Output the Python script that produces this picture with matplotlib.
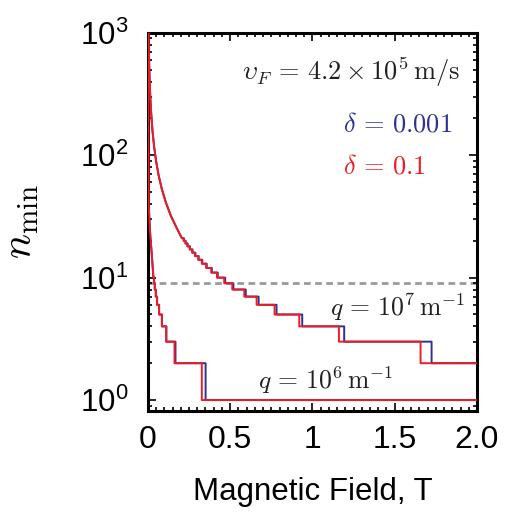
#!/usr/bin/env python3

import matplotlib
matplotlib.use("Agg")
import matplotlib.pyplot as plt
from matplotlib.ticker import FixedLocator, MultipleLocator, LogLocator, NullFormatter
import numpy as np

RED = "#ed1c24"
BLUE = "#2e3192"
TEXT = "#231f20"

# q = 1e7 m^-1 : smooth (quasi-continuous) part, then integer steps
hi_q_smooth_b = [0.0048, 0.006, 0.008, 0.011, 0.015, 0.02, 0.028, 0.038, 0.05, 0.065, 0.085, 0.11, 0.14, 0.175, 0.207]
hi_q_smooth_n = [1000, 760, 565, 410, 300, 225, 160, 118, 90, 69, 53, 41, 32, 25.5, 21]
hi_q_levels = [21, 20, 19, 18, 17, 16, 15, 14, 13, 12, 11, 10, 9, 8, 7, 6, 5, 4, 3, 2]
hi_q_edges_red = [0.207, 0.217, 0.228, 0.240, 0.254, 0.269, 0.286, 0.306, 0.328, 0.354,
                  0.385, 0.420, 0.464, 0.513, 0.586, 0.661, 0.770, 0.920, 1.161, 1.657]
hi_q_edges_blue = [0.207, 0.219, 0.230, 0.242, 0.256, 0.272, 0.289, 0.309, 0.331, 0.358,
                   0.389, 0.425, 0.470, 0.520, 0.595, 0.673, 0.782, 0.938, 1.193, 1.724]

# q = 1e6 m^-1
lo_q_smooth_b = [0.0018, 0.003, 0.0045, 0.006, 0.010, 0.015, 0.022, 0.029, 0.034]
lo_q_smooth_n = [1000, 300, 90, 38, 29, 22, 16.8, 12.5, 10]
lo_q_levels = [10, 9, 8, 7, 6, 5, 4, 3, 2, 1]
lo_q_edges_red = [0.034, 0.038, 0.042, 0.048, 0.056, 0.068, 0.085, 0.111, 0.162, 0.328]
lo_q_edges_blue = [0.034, 0.038, 0.0425, 0.0485, 0.0565, 0.069, 0.086, 0.113, 0.168, 0.351]

threshold_n = 9
x_max = 2.0


def step_curve(smooth_b, smooth_n, edges, levels, x_end):
    xs = list(smooth_b)
    ys = list(smooth_n)
    bounds = list(edges) + [x_end]
    for i, lev in enumerate(levels):
        xs += [bounds[i], bounds[i + 1]]
        ys += [lev, lev]
    return xs, ys


def main():
    plt.rcParams["font.family"] = ["Liberation Sans", "DejaVu Sans"]
    plt.rcParams["mathtext.fontset"] = "custom"
    plt.rcParams["mathtext.rm"] = "Liberation Sans"
    plt.rcParams["mathtext.it"] = "Liberation Sans:italic"

    fig = plt.figure(figsize=(5.08, 5.21), dpi=100)
    ax = fig.add_axes([0.291, 0.211, 0.648, 0.726])

    ax.axhline(threshold_n, color="#9a9a9a", lw=2.0, dashes=(2.4, 1.6), zorder=1)

    for smooth_b, smooth_n, edges, levels in [
        (hi_q_smooth_b, hi_q_smooth_n, hi_q_edges_blue, hi_q_levels),
        (lo_q_smooth_b, lo_q_smooth_n, lo_q_edges_blue, lo_q_levels),
    ]:
        xs, ys = step_curve(smooth_b, smooth_n, edges, levels, x_max)
        ax.plot(xs, ys, color=BLUE, lw=1.4, zorder=2)
    for smooth_b, smooth_n, edges, levels in [
        (hi_q_smooth_b, hi_q_smooth_n, hi_q_edges_red, hi_q_levels),
        (lo_q_smooth_b, lo_q_smooth_n, lo_q_edges_red, lo_q_levels),
    ]:
        xs, ys = step_curve(smooth_b, smooth_n, edges, levels, x_max)
        ax.plot(xs, ys, color=RED, lw=1.4, zorder=3)

    ax.set_yscale("log")
    ax.set_xlim(0, x_max)
    ax.set_ylim(0.813, 1000)

    ax.xaxis.set_major_locator(FixedLocator([0, 0.5, 1, 1.5, 2.0]))
    ax.set_xticklabels(["0", "0.5", "1", "1.5", "2.0"])
    ax.xaxis.set_minor_locator(MultipleLocator(0.05))
    ax.yaxis.set_major_locator(FixedLocator([1, 10, 100, 1000]))
    ax.set_yticklabels([r"$10^0$", r"$10^1$", r"$10^2$", r"$10^3$"])
    ax.yaxis.set_minor_locator(LogLocator(base=10, subs=np.arange(2, 10)))
    ax.yaxis.set_minor_formatter(NullFormatter())

    ax.tick_params(which="both", direction="in", top=True, right=True, width=1.2)
    ax.tick_params(which="major", length=6)
    ax.tick_params(axis="x", which="major", pad=10, labelsize=23)
    ax.tick_params(axis="y", which="major", pad=14, labelsize=22.5)
    ax.tick_params(which="minor", length=3)
    for sp in ax.spines.values():
        sp.set_linewidth(2.2)

    ax.set_xlabel("Magnetic Field, T", fontsize=22.5, labelpad=16)
    ax.set_ylabel(r"$n_{\min}$", fontsize=30, math_fontfamily="cm", labelpad=28)

    ax.text(0.948, 0.897, r"$\upsilon_F \,=\, 4.2\times 10^5\,\mathrm{m/s}$", transform=ax.transAxes,
            ha="right", va="center", fontsize=19, math_fontfamily="cm", color=TEXT)
    ax.text(0.593, 0.757, r"$\delta \,=\, 0.001$", transform=ax.transAxes,
            ha="left", va="center", fontsize=19, math_fontfamily="cm", color=BLUE)
    ax.text(0.593, 0.646, r"$\delta \,=\, 0.1$", transform=ax.transAxes,
            ha="left", va="center", fontsize=19, math_fontfamily="cm", color=RED)
    ax.text(0.963, 0.275, r"$q \,=\, 10^7\,\mathrm{m}^{-1}$", transform=ax.transAxes,
            ha="right", va="center", fontsize=18.5, math_fontfamily="cm", color=TEXT)
    ax.text(0.745, 0.082, r"$q \,=\, 10^6\,\mathrm{m}^{-1}$", transform=ax.transAxes,
            ha="right", va="center", fontsize=18.5, math_fontfamily="cm", color=TEXT)

    fig.savefig("out.png", dpi=100)
    plt.close(fig)


if __name__ == "__main__":
    main()
